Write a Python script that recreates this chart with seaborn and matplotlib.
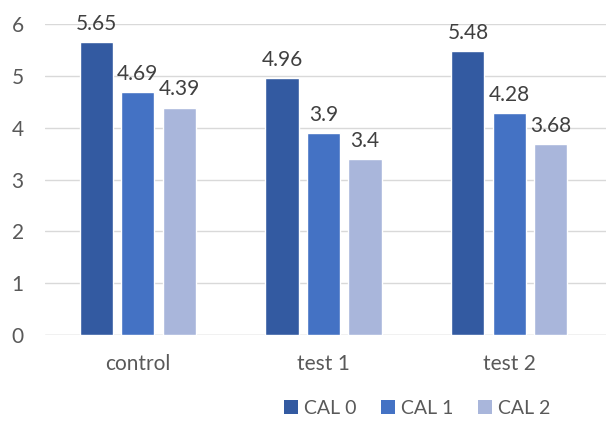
import matplotlib
matplotlib.use("Agg")
import matplotlib.pyplot as plt
import seaborn as sns
import pandas as pd
from matplotlib.patches import Patch

categories = ["control", "test 1", "test 2"]
series = ["CAL 0", "CAL 1", "CAL 2"]
cal0 = [5.65, 4.96, 5.48]
cal1 = [4.69, 3.9, 4.28]
cal2 = [4.39, 3.4, 3.68]
yticks = [0, 1, 2, 3, 4, 5, 6]
colors = ["#335AA1", "#4472C4", "#A9B6DB"]

rows = []
for s, vals in zip(series, [cal0, cal1, cal2]):
    for c, v in zip(categories, vals):
        rows.append({"cat": c, "series": s, "value": v})
df = pd.DataFrame(rows)

sns.set_theme(style="white")
plt.rcParams['font.family'] = ['Lato', 'DejaVu Sans']
txt = "#595959"
fs = 15

fig = plt.figure(figsize=(6.06, 4.24), dpi=100)
ax = fig.add_axes([0.074, 0.21, 0.926, 0.733])
sns.barplot(data=df, x="cat", y="value", hue="series", palette=colors,
            width=0.67, gap=0.2, ax=ax, legend=False, saturation=1)

for cont in ax.containers:
    labels = [("%g" % v) for v in cont.datavalues]
    ax.bar_label(cont, labels=labels, padding=6, fontsize=fs, color="#404040", clip_on=False)

ax.set_ylim(0, 6)
ax.set_xlim(-0.5, 2.52)
ax.set_yticks(yticks)
ax.yaxis.grid(True, color="#D9D9D9", linewidth=1)
ax.set_axisbelow(True)
for sp in ax.spines.values():
    sp.set_visible(False)
ax.axhline(0, color="#D9D9D9", linewidth=1, zorder=0)
ax.tick_params(axis="both", length=0, labelsize=fs, colors=txt)
ax.tick_params(axis="x", pad=14)
ax.tick_params(axis="y", pad=24)
for lab in ax.get_yticklabels():
    lab.set_horizontalalignment("left")
ax.set_xlabel("")
ax.set_ylabel("")

handles = [Patch(facecolor=c, edgecolor="none") for c in colors]
leg = fig.legend(handles, series, loc="lower left", bbox_to_anchor=(0.44, -0.025), ncol=3,
                 frameon=False, fontsize=14, handlelength=0.7, handleheight=0.7,
                 handletextpad=0.3, columnspacing=1.3)
for t in leg.get_texts():
    t.set_color(txt)

fig.savefig("out.png", dpi=100)
